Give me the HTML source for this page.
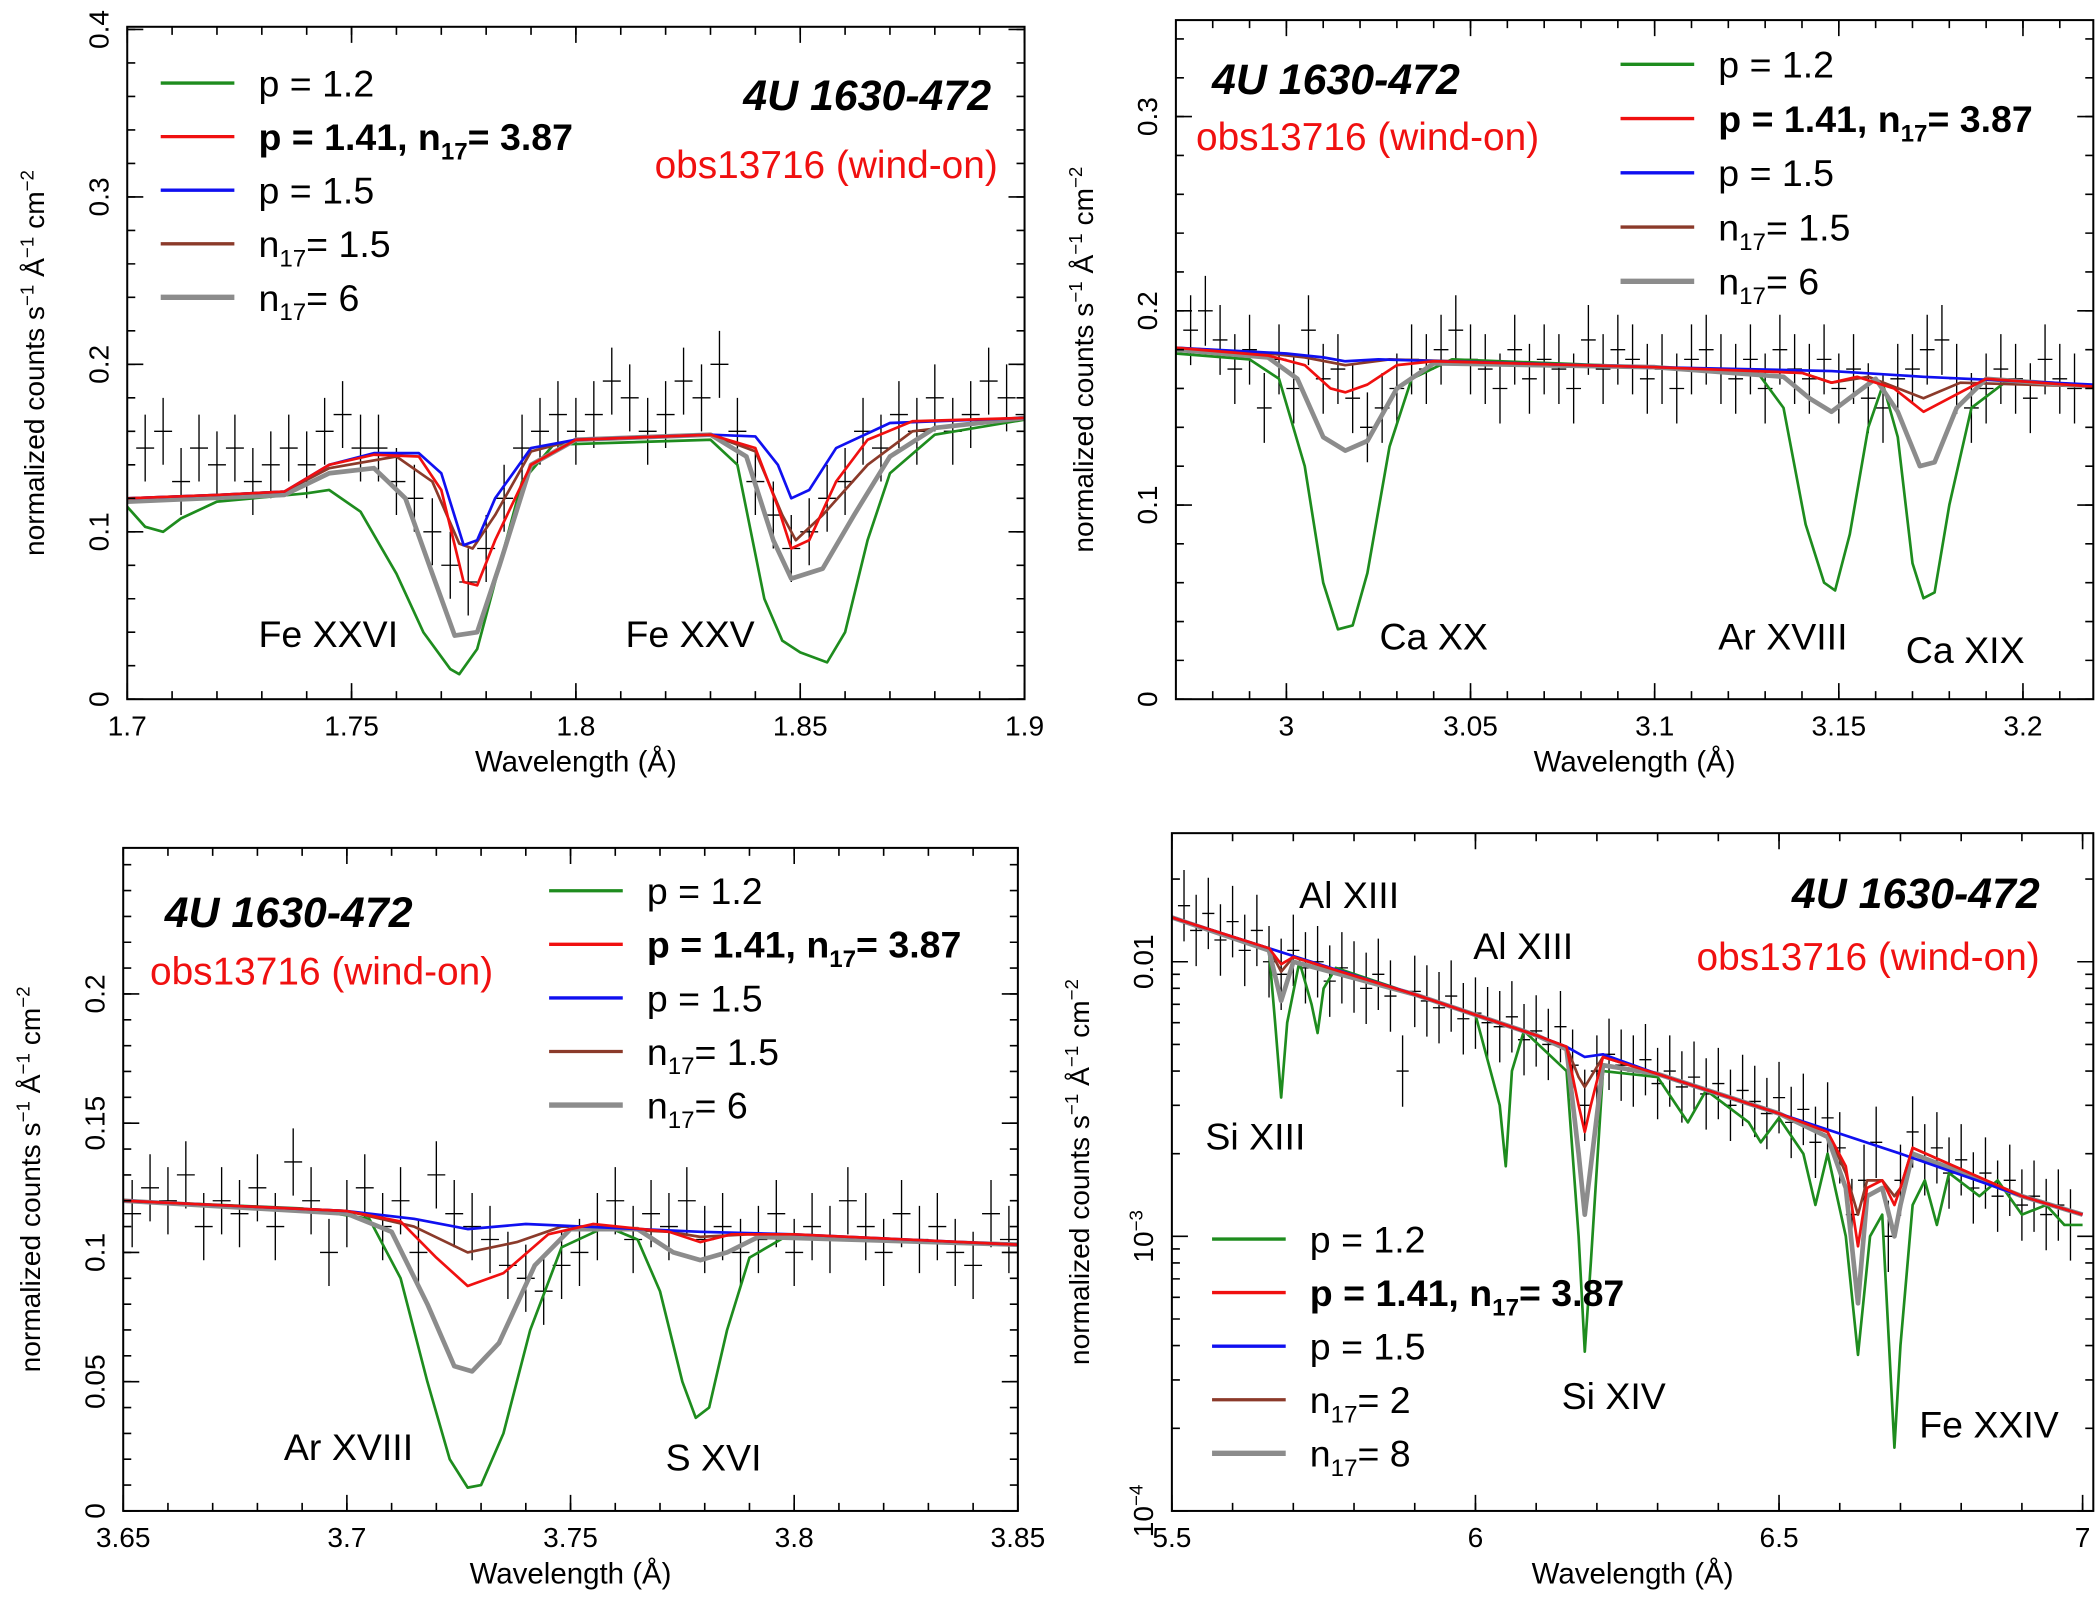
<!DOCTYPE html>
<html><head><meta charset="utf-8"><style>
html,body{margin:0;padding:0;background:#fff;}
svg{display:block;font-family:"Liberation Sans",sans-serif;}
</style></head><body>
<svg id="fig" width="2100" height="1598" viewBox="0 0 1568 1193" preserveAspectRatio="none" xmlns="http://www.w3.org/2000/svg"></svg>
<script>
// ---------- DATA ----------
const p1_x0=1.700, p1_step=0.004, p1_err=0.02;
const p1_data=[.12,.15,.16,.13,.15,.14,.15,.13,.14,.15,.14,.16,.17,.15,.15,.13,.12,.10,.08,.07,.09,.12,.15,.16,.17,.16,.17,.19,.18,.16,.17,.19,.18,.20,.16,.13,.11,.09,.10,.12,.13,.16,.15,.17,.16,.18,.16,.17,.19,.18,.17];
const p1_blue=[[1.7,.12],[1.72,.122],[1.735,.124],[1.745,.14],[1.755,.147],[1.765,.147],[1.77,.135],[1.775,.092],[1.778,.095],[1.782,.12],[1.79,.15],[1.8,.155],[1.83,.158],[1.84,.157],[1.845,.14],[1.848,.12],[1.852,.125],[1.858,.15],[1.87,.165],[1.9,.168]];
const p1_red=[[1.7,.12],[1.72,.122],[1.735,.124],[1.745,.14],[1.755,.146],[1.765,.145],[1.77,.125],[1.775,.07],[1.778,.068],[1.782,.095],[1.79,.14],[1.8,.155],[1.83,.158],[1.84,.15],[1.845,.115],[1.848,.09],[1.852,.095],[1.858,.13],[1.865,.155],[1.875,.166],[1.9,.168]];
const p1_brown=[[1.7,.12],[1.72,.122],[1.735,.124],[1.745,.138],[1.76,.145],[1.768,.13],[1.774,.093],[1.777,.09],[1.782,.11],[1.79,.148],[1.8,.155],[1.83,.158],[1.84,.148],[1.846,.11],[1.849,.095],[1.855,.11],[1.865,.14],[1.875,.16],[1.9,.168]];
const p1_gray=[[1.7,.118],[1.735,.122],[1.745,.135],[1.755,.138],[1.762,.12],[1.768,.075],[1.773,.038],[1.778,.04],[1.783,.08],[1.79,.14],[1.8,.155],[1.83,.158],[1.838,.145],[1.844,.095],[1.848,.072],[1.855,.078],[1.862,.11],[1.87,.145],[1.88,.162],[1.9,.168]];
const p1_green=[[1.7,.115],[1.704,.103],[1.708,.1],[1.712,.108],[1.72,.118],[1.74,.123],[1.745,.125],[1.752,.112],[1.76,.075],[1.766,.04],[1.772,.018],[1.774,.015],[1.778,.03],[1.783,.08],[1.788,.13],[1.795,.152],[1.83,.155],[1.836,.14],[1.842,.06],[1.846,.035],[1.85,.028],[1.856,.022],[1.86,.04],[1.865,.095],[1.87,.135],[1.88,.158],[1.9,.167]];

const p2_x0=2.974, p2_step=0.004, p2_err=0.018;
const p2_data=[.19,.20,.185,.17,.18,.15,.175,.16,.19,.165,.17,.155,.14,.15,.16,.175,.17,.18,.19,.175,.17,.16,.18,.165,.175,.17,.16,.185,.17,.18,.175,.165,.17,.16,.175,.18,.17,.165,.175,.16,.18,.17,.165,.175,.16,.17,.155,.15,.165,.17,.18,.185,.165,.15,.16,.17,.165,.155,.175,.165,.16];
const p2_blue=[[2.97,.181],[3.0,.178],[3.01,.176],[3.016,.174],[3.025,.175],[3.1,.171],[3.148,.169],[3.173,.166],[3.219,.162]];
const p2_red=[[2.97,.181],[2.995,.177],[3.005,.172],[3.012,.16],[3.016,.158],[3.022,.162],[3.03,.172],[3.04,.174],[3.1,.171],[3.14,.168],[3.148,.163],[3.155,.166],[3.165,.16],[3.173,.148],[3.18,.155],[3.19,.165],[3.219,.161]];
const p2_brown=[[2.97,.181],[2.995,.178],[3.005,.176],[3.016,.172],[3.028,.175],[3.1,.171],[3.14,.168],[3.148,.163],[3.158,.166],[3.173,.155],[3.183,.163],[3.219,.161]];
const p2_gray=[[2.97,.18],[2.995,.176],[3.003,.165],[3.01,.135],[3.016,.128],[3.022,.133],[3.03,.16],[3.04,.173],[3.1,.171],[3.135,.166],[3.142,.155],[3.148,.148],[3.155,.158],[3.16,.165],[3.166,.148],[3.172,.12],[3.176,.122],[3.182,.15],[3.19,.165],[3.219,.161]];
const p2_green=[[2.97,.178],[2.99,.175],[2.998,.165],[3.005,.12],[3.01,.06],[3.014,.036],[3.018,.038],[3.022,.065],[3.028,.13],[3.034,.165],[3.045,.175],[3.1,.171],[3.128,.168],[3.135,.15],[3.141,.09],[3.146,.06],[3.149,.056],[3.153,.085],[3.158,.14],[3.162,.162],[3.166,.135],[3.17,.07],[3.173,.052],[3.176,.055],[3.18,.1],[3.186,.15],[3.195,.163],[3.219,.161]];

const p3_x0=3.652, p3_step=0.004, p3_err=0.013;
const p3_data=[.115,.125,.12,.13,.11,.12,.115,.125,.11,.135,.12,.10,.115,.125,.11,.12,.10,.13,.115,.11,.105,.095,.09,.085,.095,.10,.11,.12,.105,.115,.11,.12,.105,.11,.10,.105,.115,.10,.11,.105,.12,.11,.10,.115,.105,.11,.10,.095,.115,.105];
const p3_blue=[[3.65,.12],[3.7,.116],[3.715,.113],[3.727,.109],[3.74,.111],[3.779,.108],[3.8,.107],[3.85,.103]];
const p3_red=[[3.65,.12],[3.7,.116],[3.712,.112],[3.72,.098],[3.727,.087],[3.735,.092],[3.745,.107],[3.755,.111],[3.772,.108],[3.779,.104],[3.786,.107],[3.8,.107],[3.85,.103]];
const p3_brown=[[3.65,.12],[3.7,.116],[3.715,.11],[3.727,.1],[3.738,.104],[3.748,.11],[3.772,.108],[3.779,.106],[3.79,.107],[3.85,.103]];
const p3_gray=[[3.65,.12],[3.7,.115],[3.71,.108],[3.718,.08],[3.724,.056],[3.728,.054],[3.734,.065],[3.742,.095],[3.75,.109],[3.765,.109],[3.773,.1],[3.779,.097],[3.785,.1],[3.792,.106],[3.85,.103]];
const p3_green=[[3.65,.12],[3.69,.117],[3.705,.113],[3.712,.09],[3.718,.05],[3.723,.02],[3.727,.009],[3.73,.01],[3.735,.03],[3.741,.07],[3.748,.102],[3.758,.11],[3.765,.105],[3.77,.085],[3.775,.05],[3.778,.036],[3.781,.04],[3.785,.07],[3.79,.098],[3.798,.106],[3.85,.103]];

const p4_x0=5.52, p4_step=0.02, p4_errDex=0.13;
const p4_data=[.016,.013,.015,.012,.014,.011,.013,.010,.009,.011,.0095,.010,.0085,.0095,.0088,.0080,.0090,.0075,.0040,.0078,.0072,.0068,.0075,.0062,.0065,.0060,.0058,.0063,.0052,.0056,.0050,.0058,.0042,.0030,.0040,.0046,.0042,.0040,.0044,.0036,.0040,.0035,.0038,.0033,.0036,.0030,.0034,.0031,.0028,.0032,.0026,.0029,.0022,.0027,.0021,.0012,.0016,.0022,.0010,.0016,.0024,.0019,.0021,.0017,.0019,.0015,.0017,.0014,.0016,.0013,.0014,.0012,.0013,.0011];
const p4_blue=[[5.5,.0145],[5.7,.0105],[5.9,.0076],[6.1,.0054],[6.15,.0049],[6.18,.0045],[6.21,.0046],[6.3,.0039],[6.5,.0028],[6.7,.002],[6.9,.0014],[7,.0012]];
const p4_red=[[5.5,.0145],[5.66,.0112],[5.68,.0098],[5.7,.0104],[5.9,.0076],[6.1,.0054],[6.15,.0049],[6.17,.003],[6.18,.0024],[6.19,.003],[6.21,.0045],[6.3,.0039],[6.5,.0028],[6.58,.0024],[6.61,.0018],[6.63,.00092],[6.645,.0015],[6.67,.0016],[6.69,.0013],[6.7,.0015],[6.72,.0021],[6.9,.0014],[7,.0012]];
const p4_brown=[[5.5,.0145],[5.66,.0112],[5.68,.0092],[5.7,.0104],[5.9,.0076],[6.1,.0054],[6.15,.0049],[6.17,.0038],[6.18,.0035],[6.19,.0038],[6.21,.0045],[6.3,.0039],[6.5,.0028],[6.58,.0024],[6.61,.0017],[6.63,.0012],[6.645,.0016],[6.67,.0016],[6.69,.0014],[6.7,.0015],[6.72,.0021],[6.9,.0014],[7,.0012]];
const p4_gray=[[5.5,.0145],[5.66,.011],[5.68,.0072],[5.7,.01],[5.9,.0076],[6.1,.0054],[6.15,.0048],[6.17,.002],[6.18,.0012],[6.19,.0018],[6.21,.0042],[6.3,.0039],[6.5,.0028],[6.58,.0023],[6.61,.0015],[6.63,.00057],[6.645,.0014],[6.67,.0015],[6.69,.001],[6.7,.0013],[6.72,.002],[6.9,.0014],[7,.0012]];
const p4_green=[[5.5,.0145],[5.66,.011],[5.67,.006],[5.68,.0032],[5.69,.006],[5.71,.01],[5.73,.007],[5.74,.0055],[5.75,.008],[5.77,.0095],[6.0,.0064],[6.04,.003],[6.05,.0018],[6.06,.004],[6.08,.0056],[6.15,.004],[6.17,.001],[6.18,.00038],[6.19,.0008],[6.21,.004],[6.3,.0038],[6.35,.0026],[6.38,.0034],[6.45,.0026],[6.47,.0022],[6.5,.0027],[6.54,.002],[6.56,.0013],[6.58,.002],[6.61,.001],[6.63,.00037],[6.65,.001],[6.67,.0012],[6.69,.00017],[6.7,.0004],[6.72,.0013],[6.74,.0016],[6.76,.0011],[6.78,.0017],[6.83,.0014],[6.86,.0016],[6.9,.0012],[6.94,.0013],[6.97,.0011],[7.0,.0011]];

// ---------- RENDER ----------
const NS='http://www.w3.org/2000/svg';
const svg=document.getElementById('fig');
function mk(tag,attrs,parent){const e=document.createElementNS(NS,tag);for(const k in attrs)e.setAttribute(k,attrs[k]);(parent||svg).appendChild(e);return e;}
const COL={green:'#1e8c1e',red:'#f01010',blue:'#1010f0',brown:'#8b3a2a',gray:'#8c8c8c'};

function panel(P){
  const g=mk('g',{});
  
  
  const X=v=>P.L+(v-P.xmin)/(P.xmax-P.xmin)*(P.R-P.L);
  const Y=P.log?(v=>P.B-(Math.log10(v)-P.lmin)/(P.lmax-P.lmin)*(P.B-P.T)):(v=>P.B-(v-P.ymin)/(P.ymax-P.ymin)*(P.B-P.T));
  const clip='clip'+P.id;
  const cp=mk('clipPath',{id:clip},g);mk('rect',{x:P.L,y:P.T,width:P.R-P.L,height:P.B-P.T},cp);
  const dg=mk('g',{'clip-path':`url(#${clip})`,stroke:'#000','stroke-width':1},g);
  
  
  P.data.forEach((v,i)=>{
    const x=P.x0+i*P.step;
    let lo,hi;
    if(P.log){lo=v/Math.pow(10,P.err);hi=v*Math.pow(10,P.err);}else{lo=v-P.err;hi=v+P.err;}
    const p=mk('path',{d:`M${X(x)},${Y(lo)}V${Y(hi)}M${X(x-P.step/2)},${Y(v)}H${X(x+P.step/2)}`,fill:'none'},dg);
    
    
  });
  const order=['green','brown','gray','blue','red'];
  order.forEach(k=>{
    const arr=P.models[k];
    const d=arr.map((p,i)=>(i?'L':'M')+X(p[0]).toFixed(1)+','+Y(p[1]).toFixed(1)).join('');
    const pl=mk('path',{d,fill:'none',stroke:COL[k],'stroke-width':k==='gray'?3.5:2,'stroke-linejoin':'round','clip-path':`url(#${clip})`},g);
    
    
  });
  const fr=mk('rect',{x:P.L,y:P.T,width:P.R-P.L,height:P.B-P.T,fill:'none',stroke:'#000','stroke-width':1.5},g);
  
  
  const tk=mk('g',{stroke:'#000','stroke-width':1.2},g);
  P.xminor.forEach(v=>{const x=X(v);mk('path',{d:`M${x},${P.B}v-6M${x},${P.T}v6`},tk);});
  P.xticks.forEach(v=>{const x=X(v);mk('path',{d:`M${x},${P.B}v-12M${x},${P.T}v12`},tk);
    const t=mk('text',{x,y:P.B+27,'font-size':21,'text-anchor':'middle'},g);t.textContent=String(v);
    
    });
  P.yminor.forEach(v=>{const y=Y(v);mk('path',{d:`M${P.L},${y}h6M${P.R},${y}h-6`},tk);});
  P.yticks.forEach((v,i)=>{const y=Y(v);mk('path',{d:`M${P.L},${y}h12M${P.R},${y}h-12`},tk);
    const t=mk('text',{x:P.L-14,y,'font-size':21,'text-anchor':'middle',transform:`rotate(-90 ${P.L-14} ${y})`},g);
    
    
    if(P.log){const lbl=P.ylabels[i];if(lbl.sup){t.textContent='10';const s=mk('tspan',{'font-size':14,dy:-8},t);s.textContent=lbl.sup;}else t.textContent=lbl.t;}
    else t.textContent=String(v);});
  const xt=mk('text',{x:(P.L+P.R)/2,y:P.B+54,'font-size':22,'text-anchor':'middle'},g);xt.textContent='Wavelength (Å)';
  
  const yx=P.L-62,yy=(P.T+P.B)/2;
  const yt=mk('text',{x:yx,y:yy,'font-size':21,'text-anchor':'middle',transform:`rotate(-90 ${yx} ${yy})`},g);
  
  yt.innerHTML='normalized counts s<tspan font-size="14" dy="-8">−1</tspan><tspan dy="8"> Å</tspan><tspan font-size="14" dy="-8">−1</tspan><tspan dy="8"> cm</tspan><tspan font-size="14" dy="-8">−2</tspan>';
  const lg=mk('g',{},g);
  const ents=[['green','p = 1.2'],['red','BOLD'],['blue','p = 1.5'],['brown','n:'+P.nlow],['gray','n:'+P.nhigh]];
  ents.forEach((e,i)=>{
    const y=P.leg.y+i*P.leg.dy;
    mk('line',{x1:P.leg.x,x2:P.leg.x+55,y1:y,y2:y,stroke:COL[e[0]],'stroke-width':e[0]==='gray'?4:2.5},lg);
    const t=mk('text',{x:P.leg.x+73,y:y+10,'font-size':28},lg);
    
    if(e[1]==='BOLD'){t.setAttribute('font-weight','bold');t.innerHTML='p = 1.41, n<tspan font-size="18" dy="7">17</tspan><tspan dy="-7">= 3.87</tspan>';}
    else if(e[1].startsWith('n:')){t.innerHTML='n<tspan font-size="18" dy="7">17</tspan><tspan dy="-7">= '+e[1].slice(2)+'</tspan>';}
    else t.textContent=e[1];
  });
  const t1=mk('text',{x:P.title.x,y:P.title.y,'font-size':32,'font-weight':'bold','font-style':'italic','text-anchor':P.title.a},g);t1.textContent='4U 1630-472';
  
  const t2=mk('text',{x:P.obs.x,y:P.obs.y,'font-size':29,fill:'#f01010','text-anchor':P.obs.a},g);t2.textContent='obs13716 (wind-on)';
  
  P.lines.forEach(l=>{const t=mk('text',{x:l[1],y:l[2],'font-size':28},g);t.textContent=l[0];
    });
}
function rng(a,b,s){const r=[];for(let v=a;v<=b+1e-9;v+=s)r.push(+v.toFixed(4));return r;}

panel({id:1,name:'panel-fe',L:95,R:765,T:20,B:522,xmin:1.7,xmax:1.9,ymin:0,ymax:0.4016,
  x0:p1_x0,step:p1_step,err:p1_err,data:p1_data,
  models:{green:p1_green,red:p1_red,blue:p1_blue,brown:p1_brown,gray:p1_gray},
  xticks:[1.7,1.75,1.8,1.85,1.9],xminor:rng(1.7,1.9,0.01),yticks:[0,0.1,0.2,0.3,0.4],yminor:rng(0,0.4,0.02),
  leg:{x:120,y:62,dy:40},nlow:'1.5',nhigh:'6',
  title:{x:740,y:82,a:'end'},obs:{x:745,y:133,a:'end'},
  lines:[['Fe XXVI',193,483],['Fe XXV',467,483]]});
panel({id:2,name:'panel-ca-ar',L:878,R:1563,T:15,B:522,xmin:2.97,xmax:3.2191,ymin:0,ymax:0.3497,
  x0:p2_x0,step:p2_step,err:p2_err,data:p2_data,
  models:{green:p2_green,red:p2_red,blue:p2_blue,brown:p2_brown,gray:p2_gray},
  xticks:[3,3.05,3.1,3.15,3.2],xminor:rng(2.98,3.21,0.01),yticks:[0,0.1,0.2,0.3],yminor:rng(0,0.34,0.02),
  leg:{x:1210,y:48,dy:40.5},nlow:'1.5',nhigh:'6',
  title:{x:905,y:70,a:'start'},obs:{x:893,y:112,a:'start'},
  lines:[['Ca XX',1030,485],['Ar XVIII',1283,485],['Ca XIX',1423,495]]});
panel({id:3,name:'panel-ar-s',L:92,R:760,T:633,B:1128,xmin:3.65,xmax:3.85,ymin:0,ymax:0.2565,
  x0:p3_x0,step:p3_step,err:p3_err,data:p3_data,
  models:{green:p3_green,red:p3_red,blue:p3_blue,brown:p3_brown,gray:p3_gray},
  xticks:[3.65,3.7,3.75,3.8,3.85],xminor:rng(3.65,3.85,0.01),yticks:[0,0.05,0.1,0.15,0.2],yminor:rng(0,0.25,0.01),
  leg:{x:410,y:665,dy:40},nlow:'1.5',nhigh:'6',
  title:{x:123,y:692,a:'start'},obs:{x:112,y:735,a:'start'},
  lines:[['Ar XVIII',212,1090],['S XVI',497,1098]]});
panel({id:4,name:'panel-si-fe',L:875,R:1563,T:622,B:1128,xmin:5.5,xmax:7.0176,log:true,lmin:-4,lmax:-1.5317,
  x0:p4_x0,step:p4_step,err:p4_errDex,data:p4_data,
  models:{green:p4_green,red:p4_red,blue:p4_blue,brown:p4_brown,gray:p4_gray},
  xticks:[5.5,6,6.5,7],xminor:rng(5.5,7,0.1),yticks:[1e-4,1e-3,1e-2],
  ylabels:[{sup:'−4'},{sup:'−3'},{t:'0.01'}],
  yminor:[2,3,4,5,6,7,8,9].flatMap(m=>[m*1e-4,m*1e-3]).concat([0.02]),
  leg:{x:905,y:925,dy:40},nlow:'2',nhigh:'8',
  title:{x:1523,y:678,a:'end'},obs:{x:1523,y:724,a:'end'},
  lines:[['Al XIII',970,678],['Al XIII',1100,716],['Si XIII',900,858],['Si XIV',1166,1052],['Fe XXIV',1433,1073]]});
</script>
</body></html>
